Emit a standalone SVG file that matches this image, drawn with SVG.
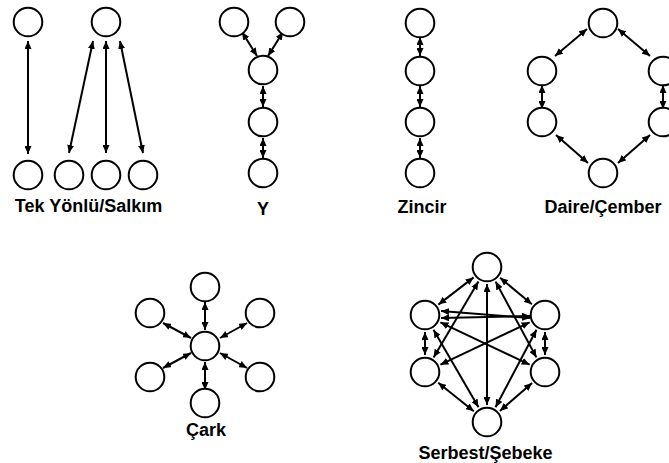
<svg xmlns="http://www.w3.org/2000/svg" width="669" height="463" viewBox="0 0 669 463">
<style>
.n{fill:#fff;stroke:#000;stroke-width:2}
.c line{stroke:#000;stroke-width:2;marker-start:url(#ah);marker-end:url(#ah)}
.t{font-family:"Liberation Sans",Arial,sans-serif;font-weight:bold;font-size:18px;text-anchor:middle;fill:#000}
</style>
<defs>
<marker id="ah" markerUnits="userSpaceOnUse" markerWidth="8" markerHeight="7" refX="8" refY="3.5" orient="auto-start-reverse">
<path d="M0,0 L8,3.5 L0,7 z" fill="#000"/>
</marker>
</defs>
<rect width="669" height="463" fill="#fff"/>
<g id="connectors" class="c">
<!-- Tek Yonlu -->
<line x1="28" y1="41" x2="28" y2="154"/>
<line x1="93" y1="41" x2="69" y2="153"/>
<line x1="106" y1="41" x2="106" y2="153"/>
<line x1="120" y1="41" x2="143" y2="153"/>
<!-- Y -->
<line x1="242" y1="32" x2="257" y2="56"/>
<line x1="283" y1="32" x2="268" y2="56"/>
<line x1="263" y1="86" x2="263" y2="107"/>
<line x1="263" y1="138" x2="263" y2="158"/>
<!-- Zincir -->
<line x1="420" y1="37" x2="420" y2="56"/>
<line x1="420" y1="86" x2="420" y2="107"/>
<line x1="420" y1="138" x2="420" y2="158"/>
<!-- Daire -->
<line x1="587" y1="29" x2="555" y2="56"/>
<line x1="618" y1="29" x2="650" y2="56"/>
<line x1="542" y1="85" x2="542" y2="109"/>
<line x1="663" y1="85" x2="663" y2="109"/>
<line x1="556" y1="135" x2="588" y2="163"/>
<line x1="650" y1="135" x2="618" y2="163"/>
<!-- Cark -->
<line x1="205" y1="302" x2="205" y2="330"/>
<line x1="205" y1="362" x2="205" y2="390"/>
<line x1="163" y1="323" x2="191" y2="338"/>
<line x1="247" y1="323" x2="220" y2="338"/>
<line x1="163" y1="368" x2="191" y2="353"/>
<line x1="247" y1="368" x2="220" y2="353"/>
<!-- Serbest -->
<line x1="473.6" y1="277.4" x2="438.4" y2="304.6"/>
<line x1="500.1" y1="277.8" x2="531.9" y2="304.2"/>
<line x1="425" y1="332" x2="425" y2="355"/>
<line x1="545" y1="332" x2="545" y2="355"/>
<line x1="438.2" y1="382.7" x2="473.8" y2="411.3"/>
<line x1="532.1" y1="383.1" x2="499.9" y2="410.9"/>
<line x1="441" y1="311" x2="530" y2="318"/>
<line x1="441" y1="318" x2="530" y2="316"/>
<line x1="440.4" y1="322.3" x2="529.6" y2="364.7"/>
<line x1="529.6" y1="322.3" x2="440.4" y2="364.7"/>
<line x1="478.4" y1="281.6" x2="433.6" y2="357.4"/>
<line x1="495.6" y1="281.6" x2="536.4" y2="357.4"/>
<line x1="487" y1="284" x2="487" y2="405"/>
<line x1="433.5" y1="329.7" x2="478.5" y2="407.3"/>
<line x1="536.5" y1="329.7" x2="495.5" y2="407.3"/>
</g>
<g id="tek">
<circle id="tek-top1" class="n" cx="28" cy="22" r="14.3"/>
<circle id="tek-top2" class="n" cx="106" cy="22" r="14.3"/>
<circle id="tek-b1" class="n" cx="28" cy="175" r="14.3"/>
<circle id="tek-b2" class="n" cx="69" cy="175" r="14.3"/>
<circle id="tek-b3" class="n" cx="106" cy="175" r="14.3"/>
<circle id="tek-b4" class="n" cx="143" cy="175" r="14.3"/>
<text class="t" x="88.5" y="212">Tek Yönlü/Salkım</text>
</g>
<g id="y">
<circle id="y-1" class="n" cx="234" cy="22" r="14.3"/>
<circle id="y-2" class="n" cx="290" cy="22" r="14.3"/>
<circle id="y-3" class="n" cx="263" cy="70" r="14.3"/>
<circle id="y-4" class="n" cx="263" cy="122" r="14.3"/>
<circle id="y-5" class="n" cx="263" cy="173" r="14.3"/>
<text class="t" x="263" y="215">Y</text>
</g>
<g id="zincir">
<circle id="z-1" class="n" cx="420" cy="23" r="14.3"/>
<circle id="z-2" class="n" cx="420" cy="71" r="14.3"/>
<circle id="z-3" class="n" cx="420" cy="122" r="14.3"/>
<circle id="z-4" class="n" cx="420" cy="173" r="14.3"/>
<text class="t" x="422" y="213">Zincir</text>
</g>
<g id="daire">
<circle id="d-1" class="n" cx="603" cy="23" r="14.3"/>
<circle id="d-2" class="n" cx="542" cy="71" r="14.3"/>
<circle id="d-3" class="n" cx="542" cy="122" r="14.3"/>
<circle id="d-4" class="n" cx="603" cy="173" r="14.3"/>
<circle id="d-5" class="n" cx="663" cy="71" r="14.3"/>
<circle id="d-6" class="n" cx="663" cy="122" r="14.3"/>
<text class="t" x="603" y="213">Daire/Çember</text>
</g>
<g id="cark">
<circle id="c-0" class="n" cx="205" cy="346" r="14.3"/>
<circle id="c-1" class="n" cx="205" cy="287" r="14.3"/>
<circle id="c-2" class="n" cx="205" cy="403" r="14.3"/>
<circle id="c-3" class="n" cx="150" cy="313" r="14.3"/>
<circle id="c-4" class="n" cx="260" cy="313" r="14.3"/>
<circle id="c-5" class="n" cx="150" cy="377" r="14.3"/>
<circle id="c-6" class="n" cx="260" cy="377" r="14.3"/>
<text class="t" x="206" y="436">Çark</text>
</g>
<g id="serbest">
<circle id="s-1" class="n" cx="487" cy="267" r="14.3"/>
<circle id="s-2" class="n" cx="425" cy="315" r="14.3"/>
<circle id="s-3" class="n" cx="545" cy="315" r="14.3"/>
<circle id="s-4" class="n" cx="425" cy="372" r="14.3"/>
<circle id="s-5" class="n" cx="545" cy="372" r="14.3"/>
<circle id="s-6" class="n" cx="487" cy="422" r="14.3"/>
<text class="t" x="485.5" y="459">Serbest/Şebeke</text>
</g>
</svg>
